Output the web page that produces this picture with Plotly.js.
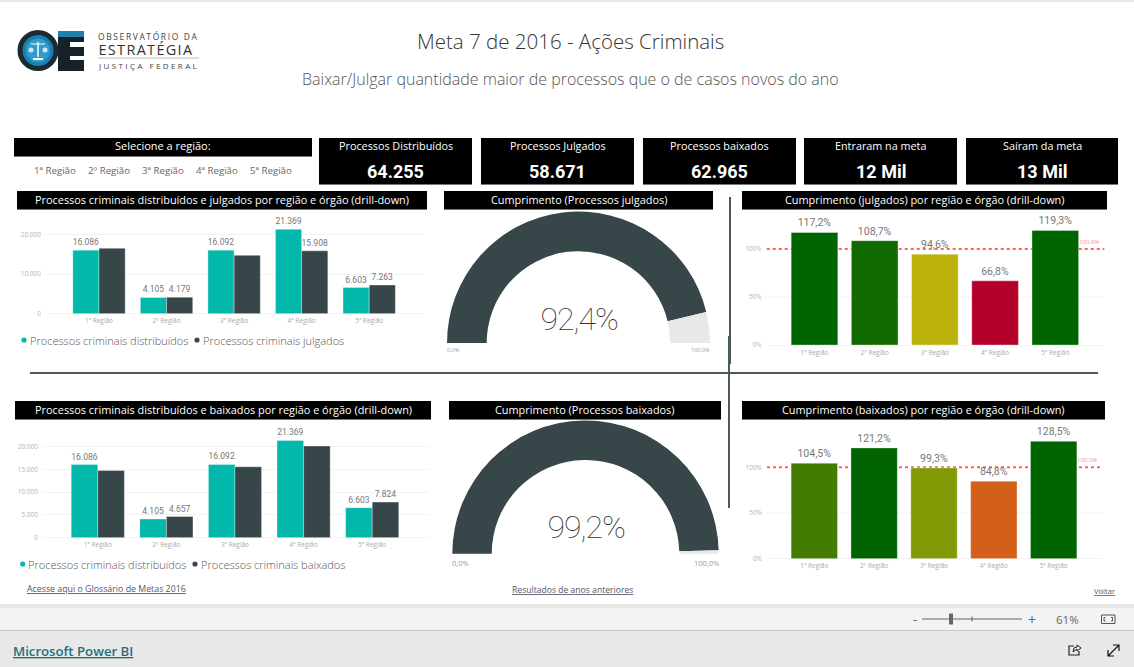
<!DOCTYPE html>
<html>
<head>
<meta charset="utf-8">
<script src="https://cdn.plot.ly/plotly-3.0.1.min.js"></script>
<style>html,body{margin:0;padding:0;background:#fff;overflow:hidden;height:667px}#wrap{width:1134px;height:667px;overflow:hidden}</style>
</head>
<body>
<div id="wrap"><div id="g"></div></div>
<script>
// ---- data ----
const regioes = ['1ª Região','2º Região','3ª Região','4ª Região','5ª Região'];
const distribuidos = [16086,4105,16092,21369,6603];
const julgados = [16550,4179,14771,15908,7263];
const baixados = [14760,4657,15580,20144,7824];
const labelsDistribuidos = ['16.086','4.105','16.092','21.369','6.603'];
const labelsJulgados = ['','4.179','','15.908','7.263'];
const labelsBaixados = ['','4.657','','','7.824'];
const cumprJulgados = [117.2,108.7,94.6,66.8,119.3];
const cumprBaixados = [104.5,121.2,99.3,84.8,128.5];
const labelsCumprJulgados = ['117,2%','108,7%','94,6%','66,8%','119,3%'];
const labelsCumprBaixados = ['104,5%','121,2%','99,3%','84,8%','128,5%'];
const coresJulgados = ['#006400','#116b00','#bbb30b','#b3002a','#006400'];
const coresBaixados = ['#437c00','#006400','#829a06','#d2601a','#006400'];
const gaugeJulgados = [92.4,7.6,100];
const gaugeBaixados = [99.2,0.8,100];
const kpiTitulos = ['Processos Distribuídos','Processos Julgados','Processos baixados','Entraram na meta','Saíram da meta'];
const kpiValores = ['64.255','58.671','62.965','12 Mil','13 Mil'];
const ticks20k = [0,10000,20000];
const ticks20kText = ['0','10.000','20.000'];
const ticks5k = [0,5000,10000,15000,20000];
const ticks5kText = ['0','5.000','10.000','15.000','20.000'];
const ticksPct = [0,50,100];
const ticksPctText = ['0%','50%','100%'];

// ---- helpers ----
const W=1134,H=720;
const X=x=>x/W, Y=y=>1-y/H;
const TEAL='#01B8AA',DARK='#374649';
const SANS='"Open Sans","Noto Sans",sans-serif';
const DIN='Roboto,"Noto Sans",sans-serif';
const shapes=[],annotations=[];
function ann(x,y,text,size,color,anchor,font,weight){
  annotations.push({xref:'paper',yref:'paper',x:X(x),y:Y(y),text,showarrow:false,xanchor:anchor||'center',yanchor:'middle',
    font:{size,color:color||'#666',family:font||SANS,weight:weight||400},borderpad:0,borderwidth:0});
}
function rect(x0,y0,x1,y1,fill,layer){
  shapes.push({type:'rect',xref:'paper',yref:'paper',x0:X(x0),x1:X(x1),y0:Y(y0),y1:Y(y1),fillcolor:fill,line:{width:0},layer:layer||'below'});
}
function circ(cx,cy,r,fill,stroke,sw){
  shapes.push({type:'circle',xref:'paper',yref:'paper',x0:X(cx-r),x1:X(cx+r),y0:Y(cy-r),y1:Y(cy+r),fillcolor:fill,line:{width:sw||0,color:stroke||fill},layer:'below'});
}
function line(x0,y0,x1,y1,color,w){
  shapes.push({type:'line',xref:'paper',yref:'paper',x0:X(x0),x1:X(x1),y0:Y(y0),y1:Y(y1),line:{color,width:w||1},layer:'below'});
}
function header(x0,y0,x1,y1,text,size){
  rect(x0,y0,x1,y1,'#000');
  rect(x0,y1,x1,y1+1,'#777');
  if(text) ann((x0+x1)/2,(y0+y1)/2-1,text,size||11.5,'#fff');
}
// ---- chrome ----
rect(0,0,1134,2,'#e8e8e8');
rect(0,604,1134,608,'#e6e6e6');
rect(0,608,1134,630,'#f3f3f3');
rect(0,630,1134,631,'#c8c8c8');
rect(0,631,1134,720,'#e8e8e8');

// logo
circ(38,50.5,18,'#1b7fb0','#1c2a33',5);
circ(38,50.5,12,'#2f9ccb');
line(38,42,38,57,'#fff',1.5);line(31,44,45,44,'#fff',1);line(33,59,43,59,'#fff',2);
circ(31,50,2.5,'#cfe8f2');circ(45,50,2.5,'#cfe8f2');
rect(58,31,84,37,'#1e80ad');
rect(64,37,84,71,'#16222a');
rect(58,37,64,71,'#16222a');
rect(70,42,84,47,'#fff');rect(70,56,84,60,'#fff');
ann(148,36,'OBSERVATÓRIO DA',8.5,'#444');
ann(146,50,'ESTRATÉGIA',14.5,'#333');
line(98,58,199,58,'#bbb',1);
ann(148.5,65,'JUSTIÇA FEDERAL',8,'#444');

// title
ann(570,41,'Meta 7 de 2016 - Ações Criminais',20.5,'#333','center',SANS,300);
ann(570,79,'Baixar/Julgar quantidade maior de processos que o de casos novos do ano',16,'#555','center',SANS,300);

// slicer
header(14,138,312,156,'Selecione a região:',11);
[55.3,109,163,217,271].forEach((x,i)=>ann(x,170,regioes[i],9.7,'#666'));

// KPI cards
[[319,472],[481,634],[643,796],[804,957],[966,1118]].forEach((b,i)=>{
  header(b[0],138,b[1],184,'');
  ann((b[0]+b[1])/2,146,kpiTitulos[i],10.8,'#fff');
  ann((b[0]+b[1])/2,171,kpiValores[i],18,'#fff','center',DIN,700);
});

// panel headers
header(17,191,427,209,'Processos criminais distribuídos e julgados por região e órgão (drill-down)',10.9);
header(444,191,713,209,'Cumprimento (Processos julgados)',10.9);
header(742,191,1107,209,'Cumprimento (julgados) por região e órgão (drill-down)',10.9);
header(15,401,431,419,'Processos criminais distribuídos e baixados por região e órgão (drill-down)',10.9);
header(449,401,721,419,'Cumprimento (Processos baixados)',10.9);
header(742,401,1105,419,'Cumprimento (baixados) por região e órgão (drill-down)',10.9);

// dividers
line(30,373,1098,373,'#4a5a5a',2);
line(730,197,730,364,'#4a5a5a',2);
line(729,336,729,508,'#4a5a5a',2);

// legends
circ(24,340,2.6,TEAL);ann(30,340,'Processos criminais distribuídos',11,'#555','left',SANS,300);
circ(197,340,2.6,DARK);ann(203,340,'Processos criminais julgados',11,'#555','left',SANS,300);
circ(22.7,564,2.6,TEAL);ann(28,564,'Processos criminais distribuídos',11,'#555','left',SANS,300);
circ(195,564,2.6,DARK);ann(201,564,'Processos criminais baixados',11,'#555','left',SANS,300);

// gauge texts
ann(578.5,319,'92,4%',32,'#333','center',DIN,100);
ann(585.5,527,'99,2%',32,'#333','center',DIN,100);
ann(447,350.5,'0,0%',5.5,'#999','left');
ann(710,350.5,'100,0%',5.5,'#999','right');
ann(452,563,'0,0%',7.5,'#999','left');
ann(718.5,563,'100,0%',7.5,'#999','right');

// 100% labels
ann(1099,242,'100,0%',6,'#fd8a90','right');
ann(1097,460,'100,0%',6,'#fd8a90','right');

// links
ann(27,589,'<u>Acesse aqui o Glossário de Metas 2016</u>',8.8,'#556','left');
ann(512,590,'<u>Resultados de anos anteriores</u>',8.6,'#556','left');
ann(1115,591,'<u>Voltar</u>',7.6,'#556','right');

// toolbar
ann(915,619,'-',13,'#666');
line(922,619,1022,619,'#666',1);
rect(949,613.5,953,624.5,'#666');
line(972,616.5,972,621.5,'#666',1);
ann(1032,619,'+',14,'#666');
ann(1067,619,'61%',11.5,'#666');
const P=(s)=>s.replace(/(-?[\d.]+),(-?[\d.]+)/g,(m,a,b)=>X(+a)+','+Y(+b));
shapes.push({type:'rect',xref:'paper',yref:'paper',x0:X(1101.5),x1:X(1115),y0:Y(615),y1:Y(623.5),line:{color:'#555',width:1},fillcolor:'rgba(0,0,0,0)',layer:'below'});
shapes.push({type:'path',xref:'paper',yref:'paper',path:P('M1105.5,617.5 L1104,617.5 L1104,621 L1105.5,621 M1111,617.5 L1112.5,617.5 L1112.5,621 L1111,621'),line:{color:'#555',width:1},layer:'below'});
ann(13,651,'<u>Microsoft Power BI</u>',13.2,'#1f6f7f','left',SANS,600);
// share icon
shapes.push({type:'path',xref:'paper',yref:'paper',path:P('M1074,646 L1069,646 L1069,655 L1079,655 L1079,651'),line:{color:'#222',width:1.2},layer:'below'});
shapes.push({type:'path',xref:'paper',yref:'paper',path:P('M1073,652 L1074,648 L1077,647 L1077,645 L1081,648 L1077,651 L1077,649 Z'),line:{color:'#222',width:1},layer:'below'});
// expand icon
shapes.push({type:'path',xref:'paper',yref:'paper',path:P('M1108,656 L1119,645 M1113,645 L1119,645 L1119,651 M1108,650 L1108,656 L1114,656'),line:{color:'#111',width:1.2},layer:'below'});

// ---- traces ----
function bar(x,y,color,text,ax,ay,size,tcolor){
  return {type:'bar',x,y,xaxis:ax,yaxis:ay,marker:{color,line:{color:'rgba(255,255,255,0.35)',width:1}},
    text,textposition:'outside',cliponaxis:false,constraintext:'none',
    textfont:{family:DIN,size,color:tcolor||'#777'},hoverinfo:'skip',showlegend:false};
}
function gauge(values,x0,x1,y0,y1,hole){
  return {type:'pie',values,sort:false,direction:'clockwise',rotation:-90,hole,textinfo:'none',hoverinfo:'skip',showlegend:false,
    marker:{colors:[DARK,'#e8e8e8','rgba(0,0,0,0)'],line:{width:0}},
    domain:{x:[X(x0),X(x1)],y:[Y(y1),Y(y0)]}};
}
const traces=[
  gauge(gaugeJulgados,447,710,211.5,474.5,0.698),
  gauge(gaugeBaixados,452.3,718.7,420.5,686.9,0.704),
  bar(regioes,distribuidos,TEAL,labelsDistribuidos,'x','y',8.5),
  bar(regioes,julgados,DARK,labelsJulgados,'x','y',8.5),
  bar(regioes,distribuidos,TEAL,labelsDistribuidos,'x2','y2',8.5),
  bar(regioes,baixados,DARK,labelsBaixados,'x2','y2',8.5),
  bar(regioes,cumprJulgados,coresJulgados,labelsCumprJulgados,'x3','y3',10.5),
  bar(regioes,cumprBaixados,coresBaixados,labelsCumprBaixados,'x4','y4',10.5)
];

// ---- axes ----
function xax(l,r,c1,sp,anchor){
  return {domain:[X(l),X(r)],anchor,type:'category',categoryorder:'array',categoryarray:regioes,
    range:[-(c1-l)/sp,(r-c1)/sp],showgrid:false,zeroline:false,showline:false,ticks:'',ticklabelstandoff:2,
    tickfont:{size:6.5,color:'#aaa',family:SANS},automargin:false,fixedrange:true};
}
function yax(t,b,maxv,tv,tt,anchor,grid){
  return {domain:[Y(b),Y(t)],anchor,range:[0,maxv],tickmode:'array',tickvals:tv,ticktext:tt,showgrid:grid,gridcolor:'#f2f2f2',gridwidth:1,
    zeroline:true,zerolinecolor:'#f2f2f2',showline:false,ticks:'',ticklabelstandoff:4,tickfont:{size:6.5,color:'#b5b5b5',family:SANS},automargin:false,fixedrange:true};
}
// percent charts: gridline at 50% and dashed red target at 100%, both under the bars
const pctLine=(xr,yr,v,color,width,dash)=>({type:'line',xref:xr+' domain',yref:yr,x0:0,x1:1,y0:v,y1:v,line:{color,width,dash},layer:'below'});
shapes.push(pctLine('x3','y3',50,'#f2f2f2',1,'solid'),pctLine('x4','y4',50,'#f2f2f2',1,'solid'));
shapes.push(pctLine('x3','y3',100,'#fd625e',2,'3px,3px'),pctLine('x4','y4',100,'#fd625e',2,'3px,3px'));

const layout={width:W,height:H,margin:{l:0,r:0,t:0,b:0,pad:0},paper_bgcolor:'#fff',plot_bgcolor:'rgba(0,0,0,0)',
  barmode:'group',bargap:0.225,bargroupgap:0,showlegend:false,hovermode:false,
  font:{family:SANS,color:'#666'},shapes,annotations,
  xaxis:xax(46,424,99,67.55,'y'),yaxis:yax(214.95,313.7,25000,ticks20k,ticks20kText,'x',true),
  xaxis2:xax(43,428,97.8,68.6,'y2'),yaxis2:yax(423.95,537.7,25000,ticks5k,ticks5kText,'x2',true),
  xaxis3:xax(766.7,1104.3,814.5,60.2,'y3'),yaxis3:yax(210.6,345,140,ticksPct,ticksPctText,'x3',false),
  xaxis4:xax(767,1102,814.3,59.85,'y4'),yaxis4:yax(421.6,558.7,150,ticksPct,ticksPctText,'x4',false)
};
Plotly.newPlot('g',traces,layout,{staticPlot:true,displayModeBar:false,responsive:false}).then(()=>{
  document.querySelectorAll('.annotation-text').forEach(t=>{
    const s=t.textContent;
    if(s==='OBSERVATÓRIO DA') t.style.letterSpacing='1.6px';
    if(s==='ESTRATÉGIA') t.style.letterSpacing='1.3px';
    if(s==='JUSTIÇA FEDERAL') t.style.letterSpacing='2.4px';
    if(s==='92,4%'||s==='99,2%') t.style.letterSpacing='-1px';
  });
});
</script>
</body>
</html>
